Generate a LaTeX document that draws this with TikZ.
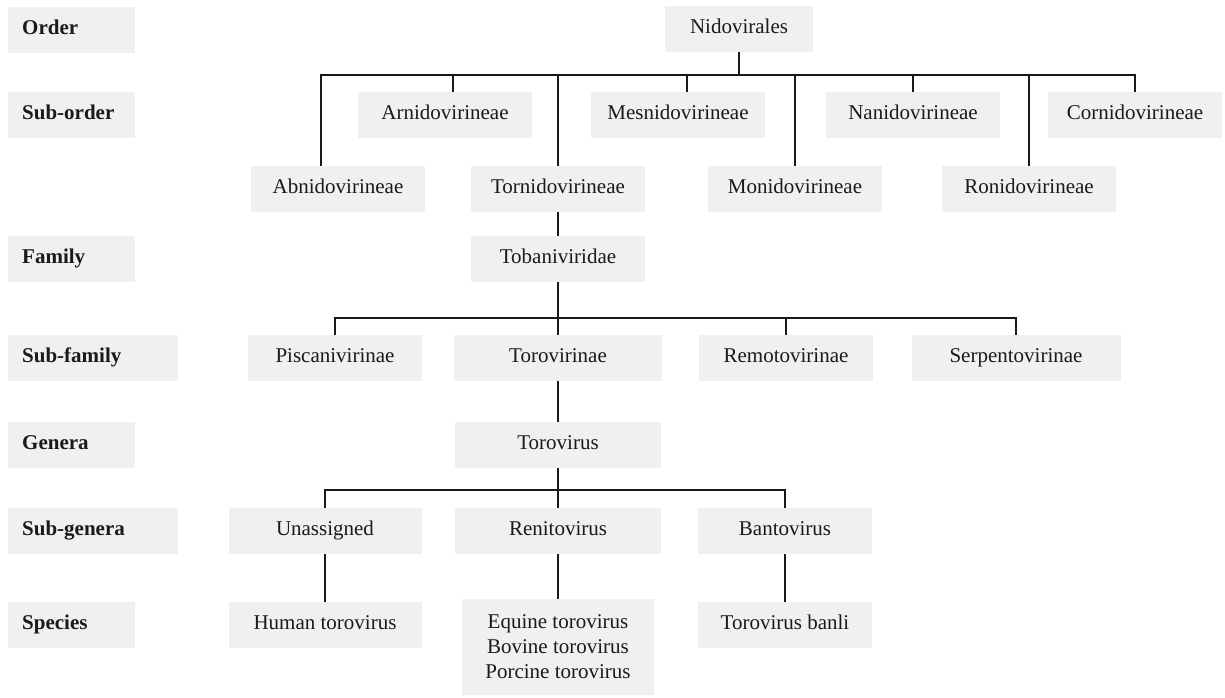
\documentclass[tikz,border=0pt]{standalone}
\usepackage{fontspec}
\setmainfont{Liberation Serif}
\definecolor{boxgray}{HTML}{F0F0F0}
\definecolor{inkgray}{HTML}{1A1A1A}

\begin{document}
\begin{tikzpicture}[x=1pt, y=-1pt,
  every node/.style={font=\fontsize{21}{25}\selectfont, text=inkgray, inner sep=0pt,
    text height=14pt, text depth=5pt},
  rank/.style={fill=boxgray, anchor=west, minimum height=46pt, inner xsep=14pt,
    text width=#1, font=\fontsize{21}{25}\selectfont\bfseries},
  rank/.default=99pt,
  taxon/.style={fill=boxgray, minimum height=46pt, minimum width=#1},
  taxon/.default=174pt,
  link/.style={line width=2.7pt, draw=black!90}]

\useasboundingbox (0,0) rectangle (1225,698);

% rank labels
\node[rank] (lorder) at (8,30) {Order};
\node[rank] (lsuborder) at (8,115) {Sub-order};
\node[rank] (lfamily) at (8,259) {Family};
\node[rank=142pt] (lsubfamily) at (8,358) {Sub-family};
\node[rank] (lgenera) at (8,445) {Genera};
\node[rank=142pt] (lsubgenera) at (8,531) {Sub-genera};
\node[rank] (lspecies) at (8,625) {Species};

% order and sub-orders
\node[taxon=148pt] (nido) at (739,29) {Nidovirales};
\node[taxon] (arni) at (445,115) {Arnidovirineae};
\node[taxon] (mesni) at (678,115) {Mesnidovirineae};
\node[taxon] (nani) at (913,115) {Nanidovirineae};
\node[taxon] (corni) at (1135,115) {Cornidovirineae};
\node[taxon] (abni) at (338,189) {Abnidovirineae};
\node[taxon] (torni) at (558,189) {Tornidovirineae};
\node[taxon] (moni) at (795,189) {Monidovirineae};
\node[taxon] (roni) at (1029,189) {Ronidovirineae};

% family and sub-families
\node[taxon] (toba) at (558,259) {Tobaniviridae};
\node[taxon] (pisc) at (335,358) {Piscanivirinae};
\node[taxon=208pt] (torovir) at (558,358) {Torovirinae};
\node[taxon] (remo) at (786,358) {Remotovirinae};
\node[taxon=209pt] (serp) at (1016,358) {Serpentovirinae};

% genus, sub-genera, species
\node[taxon=206pt] (torovirus) at (558,445) {Torovirus};
\node[taxon=193pt] (unas) at (325,531) {Unassigned};
\node[taxon=206pt] (reni) at (558,531) {Renitovirus};
\node[taxon] (banto) at (785,531) {Bantovirus};
\node[taxon=193pt] (human) at (325,625) {Human torovirus};
\node[taxon=192pt, minimum height=96pt, align=center, text height=, text depth=]
  (renisp) at (558,647) {Equine torovirus\\Bovine torovirus\\Porcine torovirus};
\node[taxon] (banli) at (785,625) {Torovirus banli};

% bus lines
\coordinate (busA) at (0,75);
\coordinate (busB) at (0,318);
\coordinate (busC) at (0,490);

% connectors
\draw[link] (nido.south) -- (nido.south |- busA);
\draw[link] ([xshift=-17pt]abni.north) |- (corni.north |- busA) -- (corni.north);
\foreach \n/\dx in {arni/8, mesni/9, nani/0} {
  \path ([xshift=\dx pt]\n.north) coordinate (tick);
  \draw[link] (tick) -- (tick |- busA);
}
\foreach \n in {torni, moni, roni}
  \draw[link] (\n.north) -- (\n.north |- busA);

\draw[link] (torni.south) -- (toba.north);
\draw[link] (toba.south) -- (torovir.north);
\draw[link] (pisc.north) |- (serp.north |- busB) -- (serp.north);
\draw[link] (remo.north) -- (remo.north |- busB);

\draw[link] (torovir.south) -- (torovirus.north);
\draw[link] (torovirus.south) -- (reni.north);
\draw[link] (unas.north) |- (banto.north |- busC) -- (banto.north);

\draw[link] (unas.south) -- (human.north);
\draw[link] (reni.south) -- (renisp.north);
\draw[link] (banto.south) -- (banli.north);

\end{tikzpicture}
\end{document}
